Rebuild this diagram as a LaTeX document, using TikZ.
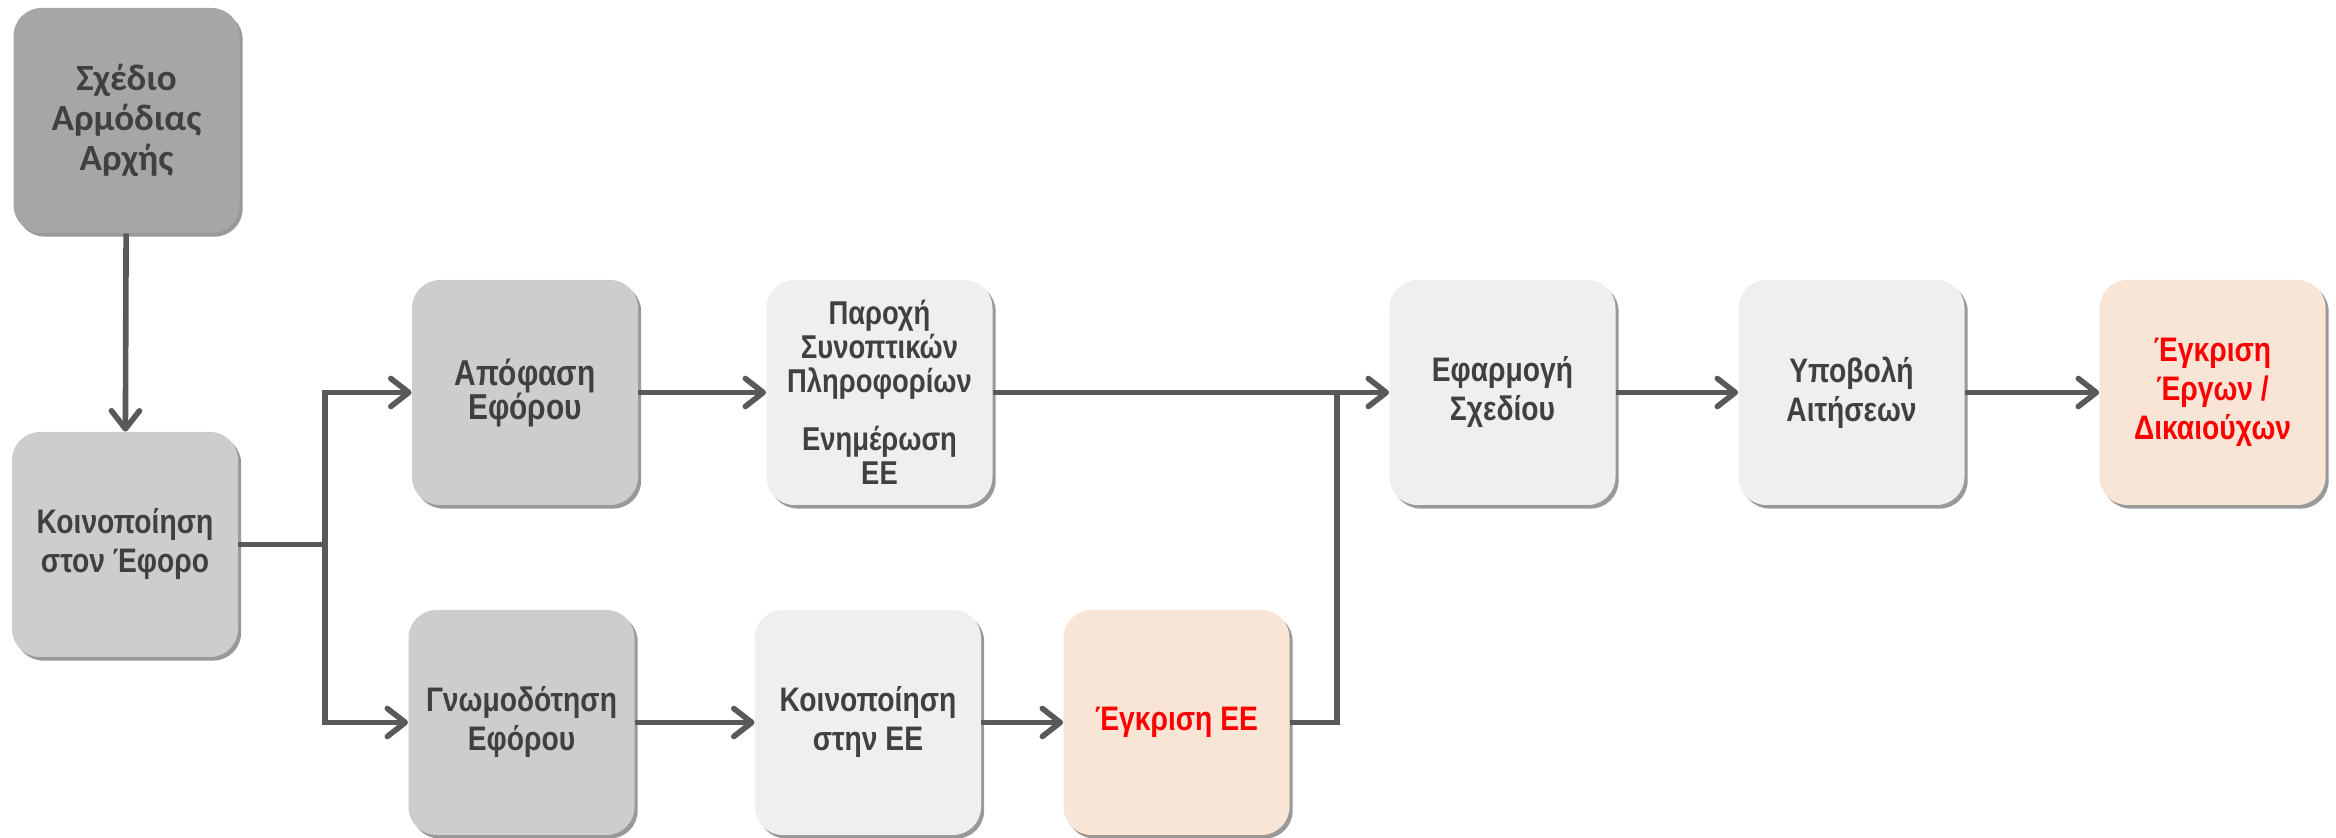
\documentclass[tikz,border=0pt]{standalone}
\usepackage{fontspec}
\newfontfamily\arialn{Liberation Sans}[FakeStretch=0.83]
\newfontfamily\carl{Carlito}
\usetikzlibrary{arrows.meta,shadows}
\definecolor{txt}{HTML}{404040}
\definecolor{gA}{HTML}{A6A6A6}
\definecolor{gB}{HTML}{CDCDCD}
\definecolor{gC}{HTML}{EFEFEF}
\definecolor{peach}{HTML}{F8E5D5}
\definecolor{lc}{HTML}{595959}
\definecolor{redt}{HTML}{FF0000}
\begin{document}
\begin{tikzpicture}[x=0.5pt,y=-0.5pt,
  box/.style={rounded corners=14pt, minimum width=113pt, minimum height=112.5pt,
    inner sep=0pt, align=center, text=txt,
    font=\arialn\bfseries\fontsize{17}{19.5}\selectfont,
    drop shadow={shadow xshift=1.6pt, shadow yshift=-1.8pt, opacity=0.4, fill=black}},
  dark/.style={box, fill=gA},
  mid/.style={box, fill=gB},
  light/.style={box, fill=gC},
  hot/.style={box, fill=peach, text=redt},
  conn/.style={line width=2.8pt, draw=lc},
  arr/.style={conn, -{Straight Barb[length=9pt,width=14pt,round]}}
]
\useasboundingbox (0,0) rectangle (2336,838);

\node[dark, font=\carl\bfseries\fontsize{18.5}{20}\selectfont] (sa) at (126.5,120.5) {Σχέδιο\\Αρμόδιας\\Αρχής};
\node[mid] (ke) at (125,544.5) {Κοινοποίηση\\στον Έφορο};
\node[mid, font=\arialn\bfseries\fontsize{18}{17}\selectfont] (ap) at (525,392.5) {Απόφαση\\Εφόρου};
\node[light, font=\arialn\bfseries\fontsize{16.5}{17}\selectfont] (pa) at (879.5,392.5) {Παροχή\\Συνοπτικών\\Πληροφορίων\\[12pt]Ενημέρωση\\ΕΕ};
\node[light] (ef) at (1502.5,392.5) {Εφαρμογή\\Σχεδίου};
\node[light] (yp) at (1851.5,392.5) {Υποβολή\\Αιτήσεων};
\node[hot] (er) at (2212.5,392.5) {Έγκριση\\Έργων /\\Δικαιούχων};
\node[mid] (gn) at (521.5,722.5) {Γνωμοδότηση\\Εφόρου};
\node[light] (kee) at (868,722.5) {Κοινοποίηση\\στην ΕΕ};
\node[hot] (eee) at (1176.5,722.5) {Έγκριση ΕΕ};

\coordinate (j1) at (325,544.5);
\coordinate (j2) at (1337,392.5);

\draw[arr] (sa) -- (ke);
\draw[conn] (ke.east) -- (j1);
\draw[arr] (j1) |- (ap.west);
\draw[arr] (j1) |- (gn.west);
\draw[arr] (ap) -- (pa);
\draw[arr] (pa) -- (ef);
\draw[arr] (gn) -- (kee);
\draw[arr] (kee) -- (eee);
\draw[conn] (eee.east) -| (j2);
\draw[arr] (ef) -- (yp);
\draw[arr] (yp) -- (er);
\end{tikzpicture}
\end{document}
